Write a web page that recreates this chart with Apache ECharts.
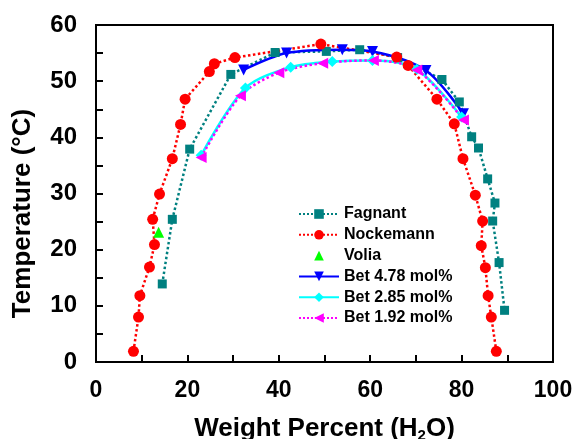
<!DOCTYPE html>
<html>
<head>
<meta charset="utf-8">
<script src="https://cdn.jsdelivr.net/npm/echarts@6/dist/echarts.min.js"></script>
<style>
  html, body { margin: 0; padding: 0; background: #fff; }
  #chart { width: 575px; height: 439px; }
</style>
</head>
<body>
<div id="chart"></div>
<script>
// 温度-含水量相图
var chart = echarts.init(document.getElementById('chart'));

// 各组数据 [含水量 wt%, 温度 °C]
var fagnant = [
    [14.5, 13.9], [16.7, 25.4], [20.5, 37.9], [29.5, 51.2], [39.2, 55.1],
    [50.4, 55.3], [57.7, 55.6], [66.0, 54.2], [75.7, 50.3], [79.5, 46.3],
    [82.2, 40.1], [83.7, 38.1], [85.7, 32.6], [87.3, 28.3], [86.8, 25.1],
    [88.2, 17.7], [89.4, 9.2]
];
var nockemann = [
    [8.2, 1.9], [9.3, 8.0], [9.6, 11.8], [11.7, 16.9], [12.8, 20.9],
    [12.4, 25.4], [13.9, 29.9], [16.7, 36.2], [18.5, 42.3], [19.5, 46.8],
    [24.8, 51.7], [25.9, 53.1], [30.4, 54.2], [49.2, 56.6], [65.8, 54.3],
    [68.3, 52.8], [74.6, 46.8], [78.4, 42.4], [80.3, 36.2], [83.0, 29.7],
    [84.6, 25.1], [84.3, 20.7], [85.2, 16.8], [85.8, 11.8], [86.5, 8.0],
    [87.6, 1.9]
];
var volia = [[13.7, 23.1]];
var bet478 = [
    [32.3, 52.0], [41.7, 55.0], [53.9, 55.6], [60.5, 55.3], [72.2, 51.9], [80.4, 44.2]
];
var bet285 = [
    [23.0, 36.8], [32.7, 48.8], [42.6, 52.5], [51.7, 53.5], [60.5, 53.7], [70.2, 52.1], [80.0, 43.6]
];
var bet192 = [
    [23.0, 36.4], [31.6, 47.4], [40.0, 51.5], [49.6, 53.2], [60.7, 53.7], [70.2, 52.0], [80.4, 43.1]
];

var font = 'Liberation Sans, Arial, sans-serif';

function lineSeries(name, data, color, symbol, size, lineType, rotate, smooth) {
    return {
        name: name,
        type: 'line',
        data: data,
        symbol: symbol,
        symbolSize: size,
        symbolRotate: rotate || 0,
        smooth: smooth || false,
        itemStyle: { color: color },
        lineStyle: { color: color, width: 2.5, type: lineType }
    };
}

var axisCommon = {
    axisLine: { lineStyle: { color: '#000', width: 2 } },
    axisTick: { inside: true, length: 7, lineStyle: { color: '#000', width: 2 } },
    minorTick: { show: true, splitNumber: 2, length: 7, lineStyle: { color: '#000', width: 2 } },
    splitLine: { show: false }
};

var option = {
    backgroundColor: '#fff',
    animation: false,
    grid: {
        left: 96,
        right: 22,
        top: 25,
        bottom: 77,
        outerBoundsMode: 'none',
        show: true,
        borderColor: '#000',
        borderWidth: 2
    },
    legend: {
        orient: 'vertical',
        left: 293,
        top: 200,
        itemWidth: 40,
        itemHeight: 12,
        itemGap: 2.8,
        textStyle: {
            fontFamily: font,
            fontWeight: 'bold',
            fontSize: 16,
            lineHeight: 18,
            color: '#000'
        },
        data: [
            'Fagnant',
            'Nockemann',
            { name: 'Volia', lineStyle: { opacity: 0 } },
            'Bet 4.78 mol%',
            'Bet 2.85 mol%',
            'Bet 1.92 mol%'
        ]
    },
    xAxis: Object.assign({
        type: 'value',
        min: 0,
        max: 100,
        interval: 20,
        name: 'Weight Percent (H{sub|2}O)',
        nameLocation: 'middle',
        nameGap: 52,
        nameTextStyle: {
            fontFamily: font,
            fontWeight: 'bold',
            fontSize: 26,
            color: '#000',
            rich: {
                sub: { fontSize: 15, fontWeight: 'bold', fontFamily: font, padding: [14, 0, 0, 0] }
            }
        },
        axisLabel: {
            margin: 17,
            fontFamily: font,
            fontWeight: 'bold',
            fontSize: 23,
            color: '#000'
        }
    }, axisCommon),
    yAxis: Object.assign({
        type: 'value',
        min: 0,
        max: 60,
        interval: 10,
        name: 'Temperature (°C)',
        nameLocation: 'middle',
        nameGap: 60,
        nameTextStyle: {
            fontFamily: font,
            fontWeight: 'bold',
            fontSize: 26,
            color: '#000',
            padding: [0, 40, 0, 0]
        },
        axisLabel: {
            margin: 19,
            fontFamily: font,
            fontWeight: 'bold',
            fontSize: 24,
            color: '#000'
        }
    }, axisCommon),
    series: [
        lineSeries('Fagnant', fagnant, '#008080', 'rect', 9, 'dotted'),
        lineSeries('Nockemann', nockemann, '#ff0000', 'circle', 11, 'dotted'),
        {
            name: 'Volia',
            type: 'line',
            data: volia,
            symbol: 'triangle',
            symbolSize: 11,
            itemStyle: { color: '#00ff00' },
            lineStyle: { width: 0, opacity: 0 }
        },
        lineSeries('Bet 4.78 mol%', bet478, '#0000ff', 'triangle', 11, 'solid', 180, 0.3),
        lineSeries('Bet 2.85 mol%', bet285, '#00ffff', 'diamond', 11, 'solid', 0, 0.3),
        lineSeries('Bet 1.92 mol%', bet192, '#ff00ff', 'triangle', 11, 'dotted', 90, 0.3)
    ]
};

chart.setOption(option);
</script>
</body>
</html>
